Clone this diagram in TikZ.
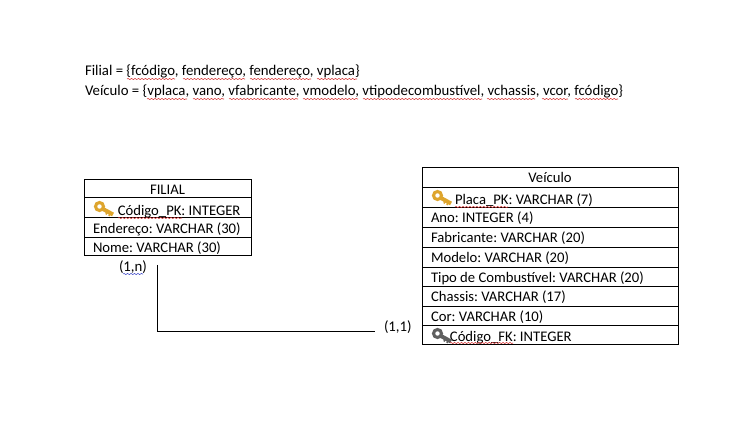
\documentclass[tikz,border=0pt]{standalone}
\usepackage{fontspec}
\setmainfont{Carlito}
\usepackage{xcolor}
\usepackage{tikz}
\usetikzlibrary{positioning,decorations.pathmorphing}
\definecolor{keygold}{RGB}{222,165,45}
\definecolor{keygray}{RGB}{95,95,95}
\definecolor{squigred}{RGB}{215,50,50}
\definecolor{squigblue}{RGB}{60,70,200}
\tikzset{
  er/label/.style={font=\fontsize{11.1}{13}\selectfont, inner sep=0pt, outer sep=0pt, anchor=base west},
  er/row/.style={draw, line width=0.7pt, font=\fontsize{11}{13}\selectfont\frenchspacing, inner xsep=3pt, inner ysep=0pt, outer sep=0pt,
    text height=11.5pt, text depth=3.5pt, align=flush left, execute at begin node={\leftskip=3.75pt\relax}},
  er/filial/.style={er/row, text width=119.25pt},
  er/veiculo/.style={er/row, text width=186pt},
  er/title/.style={execute at begin node={\centering}},
  er/keyrow/.style={text height=13pt, text depth=2pt},
  er/line/.style={line width=0.7pt},
  er/squig/.style={decorate, decoration={snake, amplitude=0.45pt, segment length=2.6pt}, line width=0.4pt},
  keyicon/.pic={
    \draw[pic actions, line width=2.3pt] (5.5,5.5) circle (4);
    \draw[pic actions, line width=3pt] (9,8) -- (19,13.5);
    \draw[pic actions, line width=1.2pt] (13,11) -- (12,13.5);
    \draw[pic actions, line width=1.2pt] (16,12.5) -- (15,15);
  }
}
\begin{document}
\begin{tikzpicture}[x=0.75pt,y=-0.75pt, line cap=butt, line join=miter]
\useasboundingbox (0,0) rectangle (747,431);
\fill[white] (0,0) rectangle (747,431);

% Relations
\node[er/label] (relfilial) at (85,76) {Filial = \{fcódigo, fendereço, fendereço, vplaca\}};
\node[er/label] (relveiculo) at (85,96) {Veículo = \{vplaca, vano, vfabricante, vmodelo, vtipodecombustível, vchassis, vcor, fcódigo\}};

% Table FILIAL
\node[er/filial, er/title, anchor=north west, text depth=2.7pt] (filial) at (84,179) {FILIAL};
\node[er/filial, er/keyrow, below=0pt of filial] (filialcodigo) {\hspace*{18.6pt}Código\_PK: INTEGER};
\node[er/filial, below=0pt of filialcodigo] (filialendereco) {Endereço: VARCHAR (30)};
\node[er/filial, below=0pt of filialendereco, text height=10.8pt, text depth=2.7pt] (filialnome) {Nome: VARCHAR (30)};

% Table Veiculo
\node[er/veiculo, er/title, anchor=north west] (veiculo) at (422,167) {Veículo};
\node[er/veiculo, er/keyrow, below=0pt of veiculo] (veiculoplaca) {\hspace*{18pt}Placa\_PK: VARCHAR (7)};
\node[er/veiculo, below=0pt of veiculoplaca] (veiculoano) {Ano: INTEGER (4)};
\node[er/veiculo, below=0pt of veiculoano] (veiculofabricante) {Fabricante: VARCHAR (20)};
\node[er/veiculo, below=0pt of veiculofabricante] (veiculomodelo) {Modelo: VARCHAR (20)};
\node[er/veiculo, below=0pt of veiculomodelo, text depth=2.9pt] (veiculotipo) {Tipo de Combustível: VARCHAR (20)};
\node[er/veiculo, below=0pt of veiculotipo] (veiculochassis) {Chassis: VARCHAR (17)};
\node[er/veiculo, below=0pt of veiculochassis, text depth=2.9pt] (veiculocor) {Cor: VARCHAR (10)};
\node[er/veiculo, below=0pt of veiculocor, text height=12pt, text depth=2.2pt] (veiculofk) {\hspace*{14.2pt}Código\_FK: INTEGER};

% Keys
\pic[draw=keygold] at (94,201) {keyicon};
\pic[draw=keygold] at (432,190) {keyicon};
\pic[draw=keygray] at (432,328) {keyicon};

% Connector
\coordinate (fkstart) at (157,265);
\coordinate (fkend) at (375,331);
\draw[er/line] (fkstart) |- (fkend);
\node[er/label] (cardfilial) at (119,272) {(1,n)};
\node[er/label] (cardveiculo) at (384,331) {(1,1)};

% Spell check marks
\foreach \xa/\xb/\ya in {127/175/79, 183/245/79, 250/311/79, 317/357/79,
    147/187/99, 193/224/99, 229/298/99, 303/358/99, 363/482/99, 487/535/99, 542/568/99, 575/618/99,
    118/182/218, 455/508/207, 450/513/343}
  \draw[er/squig, squigred] (\xa,\ya) -- (\xb,\ya);
\draw[er/squig, squigblue] (123,274) -- (143,274);
\end{tikzpicture}
\end{document}
